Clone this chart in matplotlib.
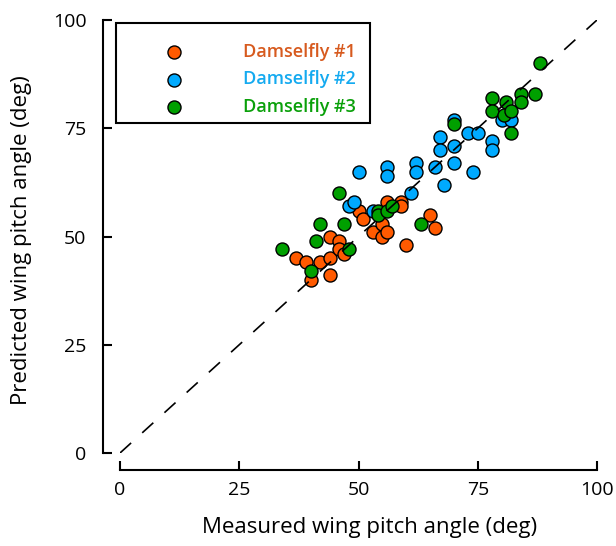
import matplotlib
matplotlib.use("Agg")
import matplotlib.pyplot as plt
from matplotlib.lines import Line2D
from matplotlib.patches import Rectangle

plt.rcParams['font.family'] = ['Open Sans', 'DejaVu Sans']
plt.rcParams['lines.scale_dashes'] = False

# Damselfly #1 (orange)
d1_measured = [37, 39, 40, 42, 44, 44, 44, 46, 46, 47, 50, 51, 53, 55, 55, 56, 56, 59, 59, 60, 65, 66]
d1_predicted = [45, 44, 40, 44, 45, 41, 50, 49, 47, 46, 56, 54, 51, 53, 50, 51, 58, 58, 57, 48, 55, 52]

# Damselfly #2 (blue)
d2_measured = [48, 49, 50, 53, 56, 56, 61, 62, 62, 66, 67, 67, 68, 70, 70, 70, 73, 74, 75, 78, 78, 80, 82]
d2_predicted = [57, 58, 65, 56, 66, 64, 60, 67, 65, 66, 73, 70, 62, 77, 71, 67, 74, 65, 74, 72, 70, 77, 77]

# Damselfly #3 (green)
d3_measured = [34, 40, 41, 42, 46, 47, 48, 54, 54, 56, 57, 63, 70, 78, 78, 80.5, 81, 82, 82, 84, 84, 87, 88]
d3_predicted = [47, 42, 49, 53, 60, 53, 47, 56, 55, 56, 57, 53, 76, 82, 79, 78, 81, 79, 74, 83, 81, 83, 90]

series_names = ["Damselfly #1", "Damselfly #2", "Damselfly #3"]
marker_colors = ["#FF5A00", "#00AAFF", "#00A000"]
text_colors = ["#D75A1E", "#14AAF0", "#0AA00A"]
ticks = [0, 25, 50, 75, 100]

W, H = 616, 546
fig = plt.figure(figsize=(W / 100, H / 100), dpi=100)
ax = fig.add_axes([120 / W, 93 / H, 477 / W, 433 / H])

data = [(d1_measured, d1_predicted), (d2_measured, d2_predicted), (d3_measured, d3_predicted)]
for (xs, ys), c in zip(data, marker_colors):
    ax.scatter(xs, ys, s=88, facecolor=c, edgecolor='black', linewidth=1.0, zorder=2, clip_on=False)

ax.plot([0, 100], [0, 100], color='black', lw=1.2, ls=(0, (10.8, 10.8)), zorder=3)

ax.set_xlim(0, 100)
ax.set_ylim(0, 100)
ax.set_xticks(ticks)
ax.set_yticks(ticks)
ax.set_xticklabels([str(t) for t in ticks])
ax.set_yticklabels([str(t) for t in ticks])

for s in ['top', 'right']:
    ax.spines[s].set_visible(False)
for s in ['left', 'bottom']:
    ax.spines[s].set_position(('outward', 12.2))
    ax.spines[s].set_bounds(0, 100)
    ax.spines[s].set_linewidth(1.5)

ax.tick_params(direction='in', length=6.5, width=1.5, labelsize=14)
ax.tick_params(axis='x', pad=8)
ax.tick_params(axis='y', pad=12)

ax.set_xlabel("Measured wing pitch angle (deg)", fontsize=16, labelpad=13)
ax.set_ylabel("Predicted wing pitch angle (deg)", fontsize=16, labelpad=15)
ax.xaxis.label.set_x((370 - 120) / 477)
ax.yaxis.label.set_y((453 - 240) / 433)

# legend box (figure pixel layout)
def fx(px):
    return px / W

def fy(py):
    return 1 - py / H

fig.add_artist(Rectangle((fx(116), fy(123)), fx(370) - fx(116), fy(23) - fy(123),
                         transform=fig.transFigure, facecolor='white', edgecolor='black',
                         linewidth=1.5, zorder=5))
row_y = [52, 79.5, 107]
for name, mc, tc, ry in zip(series_names, marker_colors, text_colors, row_y):
    fig.add_artist(Line2D([fx(174)], [fy(ry)], transform=fig.transFigure, ls='none', marker='o',
                          markersize=9.4, markerfacecolor=mc, markeredgecolor='black',
                          markeredgewidth=1.0, zorder=6))
    fig.text(fx(299), fy(ry), name, color=tc, fontsize=13, fontweight='semibold',
             ha='center', va='center', zorder=6)

fig.savefig("out.png", dpi=100)
